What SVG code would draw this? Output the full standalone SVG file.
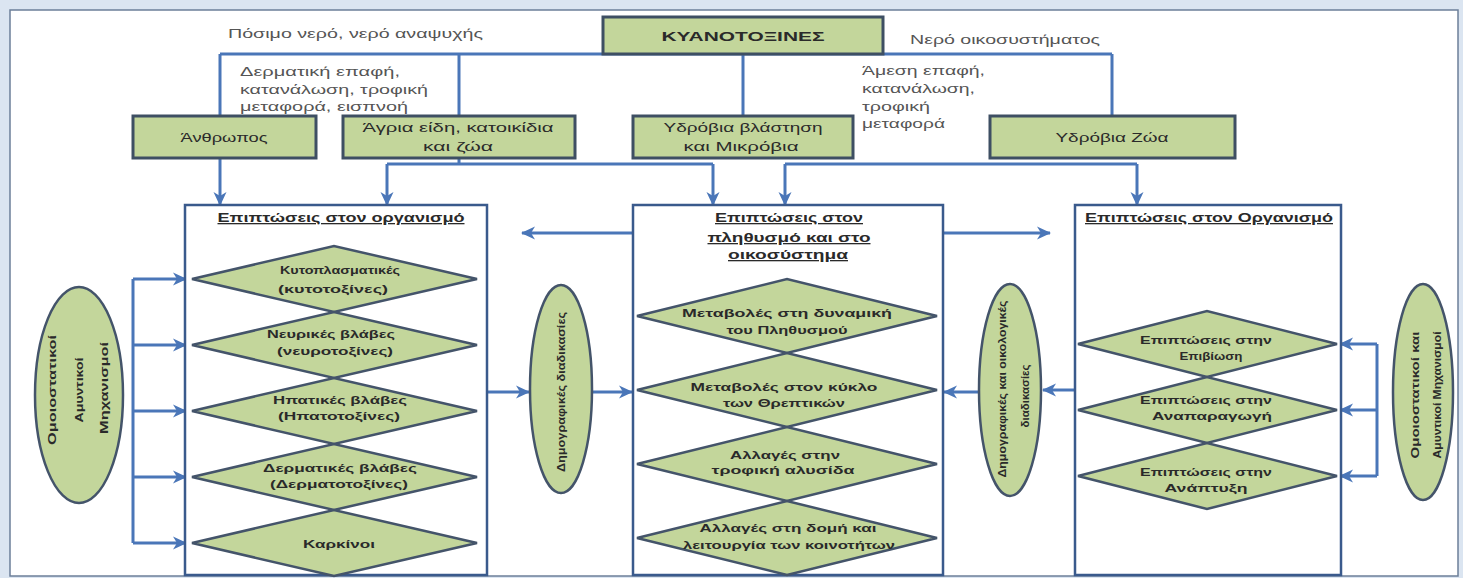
<svg xmlns="http://www.w3.org/2000/svg" width="1463" height="578" viewBox="0 0 1463 578">
<style>
.lbl{font-family:"Liberation Sans",Arial,sans-serif;font-size:12.5px;fill:#555;}
.bx{fill:#c3d69b;stroke:#3e4f63;stroke-width:3;}
.bt{font-family:"Liberation Sans",Arial,sans-serif;font-size:12.5px;fill:#2a2a2a;text-anchor:middle;}
.big{fill:#fff;stroke:#3a5a8c;stroke-width:2.5;}
.ttl{font-family:"Liberation Sans",Arial,sans-serif;font-size:13px;font-weight:bold;fill:#2a2a2a;text-anchor:middle;text-decoration:underline;}
.dm{fill:#c3d69b;stroke:#44546a;stroke-width:2.5;}
.dt{font-family:"Liberation Sans",Arial,sans-serif;font-size:11.5px;font-weight:bold;fill:#2a2a2a;text-anchor:middle;}
.el{fill:#c3d69b;stroke:#44546a;stroke-width:2.5;}
.et{font-family:"Liberation Sans",Arial,sans-serif;font-size:11px;font-weight:bold;fill:#2a2a2a;text-anchor:middle;}
.cn{fill:none;stroke:#4a76b8;stroke-width:3;}
.ar{fill:none;stroke:#4a76b8;stroke-width:3;marker-end:url(#ah);}
</style>
<defs>
<marker id="ah" markerUnits="userSpaceOnUse" markerWidth="16" markerHeight="16" refX="13" refY="7" orient="auto">
<path d="M0,0.5 L14,7 L0,13.5 L4,7 Z" fill="#4a76b8"/>
</marker>
</defs>
<rect x="0" y="0" width="1463" height="578" fill="#dbe5f1"/>
<rect x="10" y="10" width="1448" height="566" fill="#fff" stroke="#6c7f99" stroke-width="1.5"/>

<g id="connectors">
<path class="cn" d="M220,54 H1112 M220,54 V116 M459,54 V116 M743,54 V116 M1112,54 V116"/>
<path class="ar" d="M220,158 V205"/>
<path class="cn" d="M459,158 V164 M387,164 H713"/>
<path class="ar" d="M387,164 V205"/>
<path class="ar" d="M713,164 V205"/>
<path class="cn" d="M785,164 H1137"/>
<path class="ar" d="M785,164 V205"/>
<path class="ar" d="M1137,164 V205"/>
<path class="ar" d="M633,233 H522"/>
<path class="ar" d="M943,233 H1050"/>
<path class="ar" d="M487,392 H529"/>
<path class="ar" d="M592,392 H632"/>
<path class="ar" d="M1075,390 H1043"/>
<path class="ar" d="M979,392 H944"/>
<path class="cn" d="M133,279 V543"/>
<path class="ar" d="M133,279 H186"/>
<path class="ar" d="M133,345 H186"/>
<path class="ar" d="M133,411 H186"/>
<path class="ar" d="M133,477 H186"/>
<path class="ar" d="M133,543 H186"/>
<path class="cn" d="M1377,344 V476"/>
<path class="ar" d="M1377,344 H1340"/>
<path class="ar" d="M1377,410 H1340"/>
<path class="ar" d="M1377,476 H1340"/>
</g>

<g id="labels">
<text class="lbl" x="228" y="38" textLength="255" lengthAdjust="spacingAndGlyphs">Πόσιμο νερό, νερό αναψυχής</text>
<text class="lbl" x="240" y="76" textLength="160" lengthAdjust="spacingAndGlyphs">Δερματική επαφή,</text>
<text class="lbl" x="240" y="94" textLength="188" lengthAdjust="spacingAndGlyphs">κατανάλωση, τροφική</text>
<text class="lbl" x="240" y="111" textLength="168" lengthAdjust="spacingAndGlyphs">μεταφορά, εισπνοή</text>
<text class="lbl" x="910" y="44" textLength="190" lengthAdjust="spacingAndGlyphs">Νερό οικοσυστήματος</text>
<text class="lbl" x="862" y="75" textLength="123" lengthAdjust="spacingAndGlyphs">Άμεση επαφή,</text>
<text class="lbl" x="862" y="93" textLength="113" lengthAdjust="spacingAndGlyphs">κατανάλωση,</text>
<text class="lbl" x="862" y="111" textLength="68" lengthAdjust="spacingAndGlyphs">τροφική</text>
<text class="lbl" x="862" y="128" textLength="83" lengthAdjust="spacingAndGlyphs">μεταφορά</text>
</g>

<g id="kyanotoxines">
<rect class="bx" x="603" y="17" width="280" height="37"/>
<text class="bt" x="743" y="41" font-weight="bold" font-size="14" textLength="163" lengthAdjust="spacingAndGlyphs">ΚΥΑΝΟΤΟΞΙΝΕΣ</text>
</g>
<g id="anthropos">
<rect class="bx" x="133" y="116" width="183" height="42"/>
<text class="bt" x="224" y="142" textLength="87" lengthAdjust="spacingAndGlyphs">Άνθρωπος</text>
</g>
<g id="agria">
<rect class="bx" x="343" y="116" width="232" height="42"/>
<text class="bt" x="458" y="132" textLength="191" lengthAdjust="spacingAndGlyphs">Άγρια είδη, κατοικίδια</text>
<text class="bt" x="458" y="151" textLength="70" lengthAdjust="spacingAndGlyphs">και ζώα</text>
</g>
<g id="vlastisi">
<rect class="bx" x="633" y="116" width="220" height="42"/>
<text class="bt" x="743" y="132" textLength="159" lengthAdjust="spacingAndGlyphs">Υδρόβια βλάστηση</text>
<text class="bt" x="741" y="151" textLength="115" lengthAdjust="spacingAndGlyphs">και Μικρόβια</text>
</g>
<g id="zoa">
<rect class="bx" x="990" y="116" width="245" height="42"/>
<text class="bt" x="1112" y="142" textLength="113" lengthAdjust="spacingAndGlyphs">Υδρόβια Ζώα</text>
</g>

<g id="box-left">
<rect class="big" x="185" y="205" width="302" height="370"/>
<text class="ttl" x="341" y="222" textLength="247" lengthAdjust="spacingAndGlyphs">Επιπτώσεις στον οργανισμό</text>
<polygon class="dm" points="192,279 334,246 477,279 334,312"/>
<text class="dt" x="340" y="274" textLength="120" lengthAdjust="spacingAndGlyphs">Κυτοπλασματικές</text>
<text class="dt" x="333" y="293" textLength="110" lengthAdjust="spacingAndGlyphs">(κυτοτοξίνες)</text>
<polygon class="dm" points="192,345 334,312 477,345 334,378"/>
<text class="dt" x="331" y="338" textLength="128" lengthAdjust="spacingAndGlyphs">Νευρικές βλάβες</text>
<text class="dt" x="335" y="355" textLength="116" lengthAdjust="spacingAndGlyphs">(νευροτοξίνες)</text>
<polygon class="dm" points="192,411 334,378 477,411 334,444"/>
<text class="dt" x="340" y="404" textLength="134" lengthAdjust="spacingAndGlyphs">Ηπατικές βλάβες</text>
<text class="dt" x="339" y="420" textLength="122" lengthAdjust="spacingAndGlyphs">(Ηπατοτοξίνες)</text>
<polygon class="dm" points="192,477 334,444 477,477 334,510"/>
<text class="dt" x="340" y="472" textLength="154" lengthAdjust="spacingAndGlyphs">Δερματικές βλάβες</text>
<text class="dt" x="339" y="488" textLength="138" lengthAdjust="spacingAndGlyphs">(Δερματοτοξίνες)</text>
<polygon class="dm" points="192,543 334,510 477,543 334,576"/>
<text class="dt" x="339" y="548" textLength="72" lengthAdjust="spacingAndGlyphs">Καρκίνοι</text>
</g>

<g id="box-middle">
<rect class="big" x="633" y="205" width="310" height="370"/>
<text class="ttl" x="789" y="222" textLength="148" lengthAdjust="spacingAndGlyphs">Επιπτώσεις στον</text>
<text class="ttl" x="789" y="242" textLength="163" lengthAdjust="spacingAndGlyphs">πληθυσμό και στο</text>
<text class="ttl" x="788" y="259" textLength="120" lengthAdjust="spacingAndGlyphs">οικοσύστημα</text>
<polygon class="dm" points="637,316 787,279 937,316 787,353"/>
<text class="dt" x="787" y="317" textLength="210" lengthAdjust="spacingAndGlyphs">Μεταβολές στη δυναμική</text>
<text class="dt" x="787" y="334" textLength="121" lengthAdjust="spacingAndGlyphs">του Πληθυσμού</text>
<polygon class="dm" points="637,390 787,353 937,390 787,427"/>
<text class="dt" x="784" y="391" textLength="187" lengthAdjust="spacingAndGlyphs">Μεταβολές στον κύκλο</text>
<text class="dt" x="784" y="407" textLength="122" lengthAdjust="spacingAndGlyphs">των Θρεπτικών</text>
<polygon class="dm" points="637,464 787,427 937,464 787,501"/>
<text class="dt" x="785" y="459" textLength="110" lengthAdjust="spacingAndGlyphs">Αλλαγές στην</text>
<text class="dt" x="783" y="474" textLength="143" lengthAdjust="spacingAndGlyphs">τροφική αλυσίδα</text>
<polygon class="dm" points="637,538 787,501 937,538 787,575"/>
<text class="dt" x="788" y="532" textLength="177" lengthAdjust="spacingAndGlyphs">Αλλαγές στη δομή και</text>
<text class="dt" x="789" y="549" textLength="212" lengthAdjust="spacingAndGlyphs">λειτουργία των κοινοτήτων</text>
</g>

<g id="box-right">
<rect class="big" x="1075" y="205" width="266" height="370"/>
<text class="ttl" x="1209" y="222" textLength="248" lengthAdjust="spacingAndGlyphs">Επιπτώσεις στον Οργανισμό</text>
<polygon class="dm" points="1078,344 1207,311 1337,344 1207,377"/>
<text class="dt" x="1206" y="344" textLength="132" lengthAdjust="spacingAndGlyphs">Επιπτώσεις στην</text>
<text class="dt" x="1211" y="360" textLength="63" lengthAdjust="spacingAndGlyphs">Επιβίωση</text>
<polygon class="dm" points="1078,410 1207,377 1337,410 1207,443"/>
<text class="dt" x="1206" y="404" textLength="132" lengthAdjust="spacingAndGlyphs">Επιπτώσεις στην</text>
<text class="dt" x="1212" y="420" textLength="120" lengthAdjust="spacingAndGlyphs">Αναπαραγωγή</text>
<polygon class="dm" points="1078,476 1207,443 1337,476 1207,509"/>
<text class="dt" x="1206" y="476" textLength="132" lengthAdjust="spacingAndGlyphs">Επιπτώσεις στην</text>
<text class="dt" x="1206" y="492" textLength="83" lengthAdjust="spacingAndGlyphs">Ανάπτυξη</text>
</g>

<g id="ellipse-left">
<ellipse class="el" cx="79" cy="395" rx="44" ry="108"/>
<text class="et" transform="translate(56,390) rotate(-90)" textLength="110" lengthAdjust="spacingAndGlyphs">Ομοιοστατικοί</text>
<text class="et" transform="translate(83,390) rotate(-90)" textLength="65" lengthAdjust="spacingAndGlyphs">Αμυντικοί</text>
<text class="et" transform="translate(108,388) rotate(-90)" textLength="92" lengthAdjust="spacingAndGlyphs">Μηχανισμοί</text>
</g>
<g id="ellipse-mid-left">
<ellipse class="el" cx="561" cy="389" rx="31" ry="104"/>
<text class="et" transform="translate(565,392) rotate(-90)" textLength="160" lengthAdjust="spacingAndGlyphs">Δημογραφικές διαδικασίες</text>
</g>
<g id="ellipse-mid-right">
<ellipse class="el" cx="1010" cy="390" rx="31" ry="106"/>
<text class="et" transform="translate(1006,389) rotate(-90)" textLength="177" lengthAdjust="spacingAndGlyphs">Δημογραφικές και οικολογικές</text>
<text class="et" transform="translate(1029,396) rotate(-90)" textLength="63" lengthAdjust="spacingAndGlyphs">διαδικασίες</text>
</g>
<g id="ellipse-right">
<ellipse class="el" cx="1423" cy="392" rx="30" ry="108"/>
<text class="et" transform="translate(1419,395) rotate(-90)" textLength="127" lengthAdjust="spacingAndGlyphs">Ομοιοστατικοί και</text>
<text class="et" transform="translate(1441,395) rotate(-90)" textLength="127" lengthAdjust="spacingAndGlyphs">Αμυντικοί Μηχανισμοί</text>
</g>
</svg>
